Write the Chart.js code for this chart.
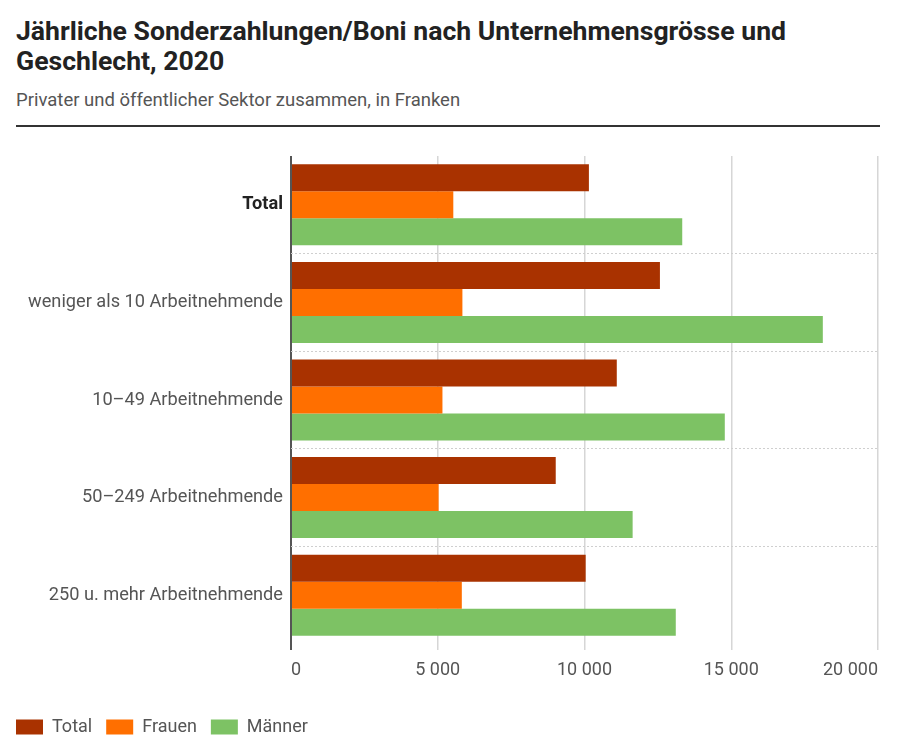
<!DOCTYPE html>
<html>
<head>
<meta charset="utf-8">
<script src="https://cdn.jsdelivr.net/npm/chart.js@4/dist/chart.umd.min.js"></script>
<style>
  body { margin: 0; background: #fff; font-family: Roboto, sans-serif; }
  #title { position: absolute; left: 16px; top: 16px; width: 880px; font-size: 26.6px; font-weight: 700; line-height: 30px; color: #222; }
  #sub { position: absolute; left: 16px; top: 89px; font-size: 18.5px; color: #555; }
  #rule { position: absolute; left: 16px; top: 125px; width: 864px; height: 2px; background: #333; }
  #wrap { position: absolute; left: 0; top: 135px; width: 900px; height: 621px; }
</style>
</head>
<body>
<div id="title">Jährliche Sonderzahlungen/Boni nach Unternehmensgrösse und<br>Geschlecht, 2020</div>
<div id="sub">Privater und öffentlicher Sektor zusammen, in Franken</div>
<div id="rule"></div>
<div id="wrap"><canvas id="c-chart-boni"></canvas></div>
<script>
var categories = ['Total', 'weniger als 10 Arbeitnehmende', '10–49 Arbeitnehmende', '50–249 Arbeitnehmende', '250 u. mehr Arbeitnehmende']
var total = [10150, 12570, 11100, 9020, 10040]
var frauen = [5530, 5840, 5160, 5030, 5820]
var maenner = [13330, 18120, 14780, 11640, 13110]
var xTicks = [0, 5000, 10000, 15000, 20000]

var fmt = function(v) {
  return String(v).replace(/\B(?=(\d{3})+(?!\d))/g, ' ')
}

var config = {
  type: 'bar',
  data: {
    labels: categories,
    datasets: [
      { label: 'Total', data: total, backgroundColor: '#a93200' },
      { label: 'Frauen', data: frauen, backgroundColor: '#ff6f00' },
      { label: 'Männer', data: maenner, backgroundColor: '#7dc264' }
    ]
  },
  options: {
    indexAxis: 'y',
    responsive: true,
    maintainAspectRatio: false,
    animation: false,
    datasets: { bar: { barPercentage: 1, categoryPercentage: 0.83 } },
    layout: { padding: { left: 2, right: 22, top: 21, bottom: 10 } },
    scales: {
      x: {
        min: 0,
        max: 20000,
        afterBuildTicks: function(scale) {
          scale.ticks = xTicks.map(function(v) { return { value: v } })
        },
        // extra room between the tick labels and the legend
        afterFit: function(scale) { scale.height = 60 },
        border: { display: false },
        grid: {
          color: function(ctx) { return ctx.tick && ctx.tick.value === 0 ? '#555' : '#d6d6d6' },
          lineWidth: function(ctx) { return ctx.tick && ctx.tick.value === 0 ? 2 : 1.5 },
          tickLength: 6
        },
        ticks: {
          color: '#555',
          align: 'inner',
          font: { family: 'Roboto', size: 18 },
          padding: 10,
          callback: function(v) { return fmt(v) }
        }
      },
      y: {
        afterFit: function(scale) { scale.width = 289 },
        border: { display: false, dash: [2, 2] },
        grid: {
          offset: true,
          drawTicks: false,
          color: function(ctx) {
            return ctx.index > 0 && ctx.index < categories.length ? '#cfcfcf' : 'rgba(0,0,0,0)'
          }
        },
        ticks: {
          color: function(ctx) { return ctx.index === 0 ? '#222' : '#555' },
          padding: 8,
          font: function(ctx) {
            return { family: 'Roboto', size: 18.2, weight: ctx.index === 0 ? 'bold' : 'normal' }
          }
        }
      }
    },
    plugins: {
      tooltip: { enabled: false },
      legend: {
        position: 'bottom',
        align: 'start',
        labels: {
          boxWidth: 27,
          boxHeight: 15,
          padding: 14,
          color: '#555',
          font: { family: 'Roboto', size: 18 }
        }
      }
    }
  }
}

var ctx = document.getElementById('c-chart-boni').getContext('2d')
new Chart(ctx, config)
</script>
</body>
</html>
